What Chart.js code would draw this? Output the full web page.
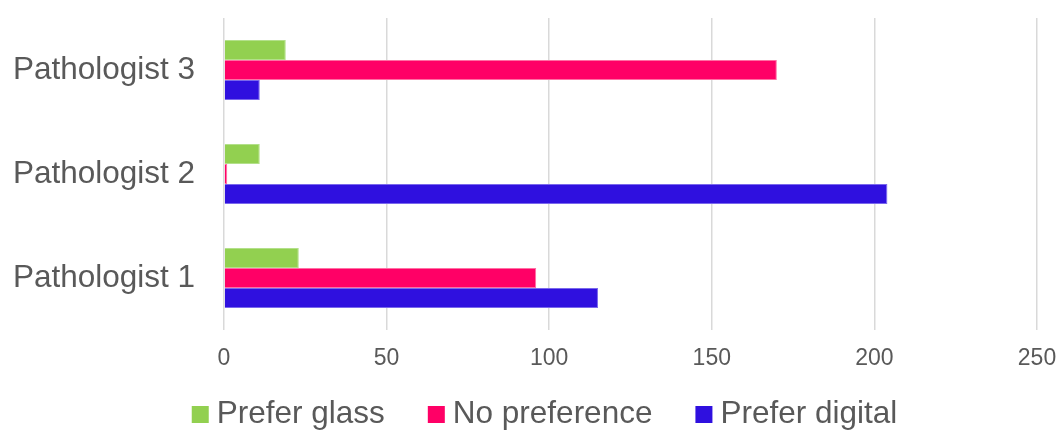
<!DOCTYPE html>
<html>
<head>
<meta charset="utf-8">
<script src="https://cdn.jsdelivr.net/npm/chart.js@4/dist/chart.umd.min.js"></script>
<style>
  html, body { margin: 0; padding: 0; background: #ffffff; }
  #wrap { width: 1060px; height: 431px; position: relative; }
</style>
</head>
<body>
<div id="wrap"><canvas id="chart" width="1060" height="431"></canvas></div>
<script>
// Survey answers per pathologist
const categories = ['Pathologist 3', 'Pathologist 2', 'Pathologist 1'];
const seriesNames = ['Prefer glass', 'No preference', 'Prefer digital'];
const preferGlass = [19, 11, 23];
const noPreference = [170, 1, 96];
const preferDigital = [11, 204, 115];
const xTicks = [0, 50, 100, 150, 200, 250];

const FONT = '"Liberation Sans", Arial, Helvetica, sans-serif';
const TEXT = '#595959';
const fills = ['#92D050', '#FF0066', '#2F10DF'];
const edges = ['#B3E08A', '#FF6FA3', '#7A68EC'];

// Legend drawn along the bottom edge, centred under the plot
const bottomLegend = {
  id: 'bottomLegend',
  afterDraw(chart) {
    const ctx = chart.ctx;
    const box = 17, gapText = 8, gapItem = 43, size = 31.5;
    ctx.save();
    ctx.font = size + 'px ' + FONT;
    ctx.textBaseline = 'middle';
    ctx.textAlign = 'left';
    const items = chart.data.datasets.map(ds => ({
      label: ds.label, color: ds.backgroundColor, w: ctx.measureText(ds.label).width
    }));
    let total = items.reduce((s, it) => s + box + gapText + it.w, 0) + gapItem * (items.length - 1);
    let x = 544.5 - total / 2;
    const cy = 414.5;
    items.forEach(it => {
      ctx.fillStyle = it.color;
      ctx.fillRect(x, cy - box / 2, box, box);
      ctx.fillStyle = TEXT;
      ctx.fillText(it.label, x + box + gapText, cy);
      x += box + gapText + it.w + gapItem;
    });
    ctx.restore();
  }
};

const values = [preferGlass, noPreference, preferDigital];

function noScalePadding(scale) {
  scale.paddingTop = 0;
  scale.paddingBottom = 0;
  scale.paddingLeft = 0;
  scale.paddingRight = 0;
}

new Chart(document.getElementById('chart'), {
  type: 'bar',
  data: {
    labels: categories,
    datasets: seriesNames.map((name, i) => ({
      label: name,
      data: values[i],
      backgroundColor: fills[i],
      borderColor: edges[i],
      borderWidth: 1,
      barPercentage: 1,
      categoryPercentage: 0.577
    }))
  },
  options: {
    indexAxis: 'y',
    responsive: false,
    animation: false,
    events: [],
    layout: { padding: { top: 18, right: 23, bottom: 50, left: 0 } },
    plugins: {
      legend: { display: false },
      tooltip: { enabled: false }
    },
    scales: {
      x: {
        min: 0,
        max: 250,
        afterBuildTicks(scale) { scale.ticks = xTicks.map(v => ({ value: v })); },
        afterFit(scale) { scale.height = 51; noScalePadding(scale); },
        grid: { color: '#D9D9D9', lineWidth: 1.5, drawTicks: false },
        border: { display: false },
        ticks: { padding: 15, color: TEXT, font: { family: FONT, size: 23 } }
      },
      y: {
        afterFit(scale) { scale.width = 224; noScalePadding(scale); },
        grid: { display: false, drawTicks: false },
        border: { display: false },
        ticks: { padding: 29, color: TEXT, font: { family: FONT, size: 31.5 } }
      }
    }
  },
  plugins: [bottomLegend]
});
</script>
</body>
</html>
